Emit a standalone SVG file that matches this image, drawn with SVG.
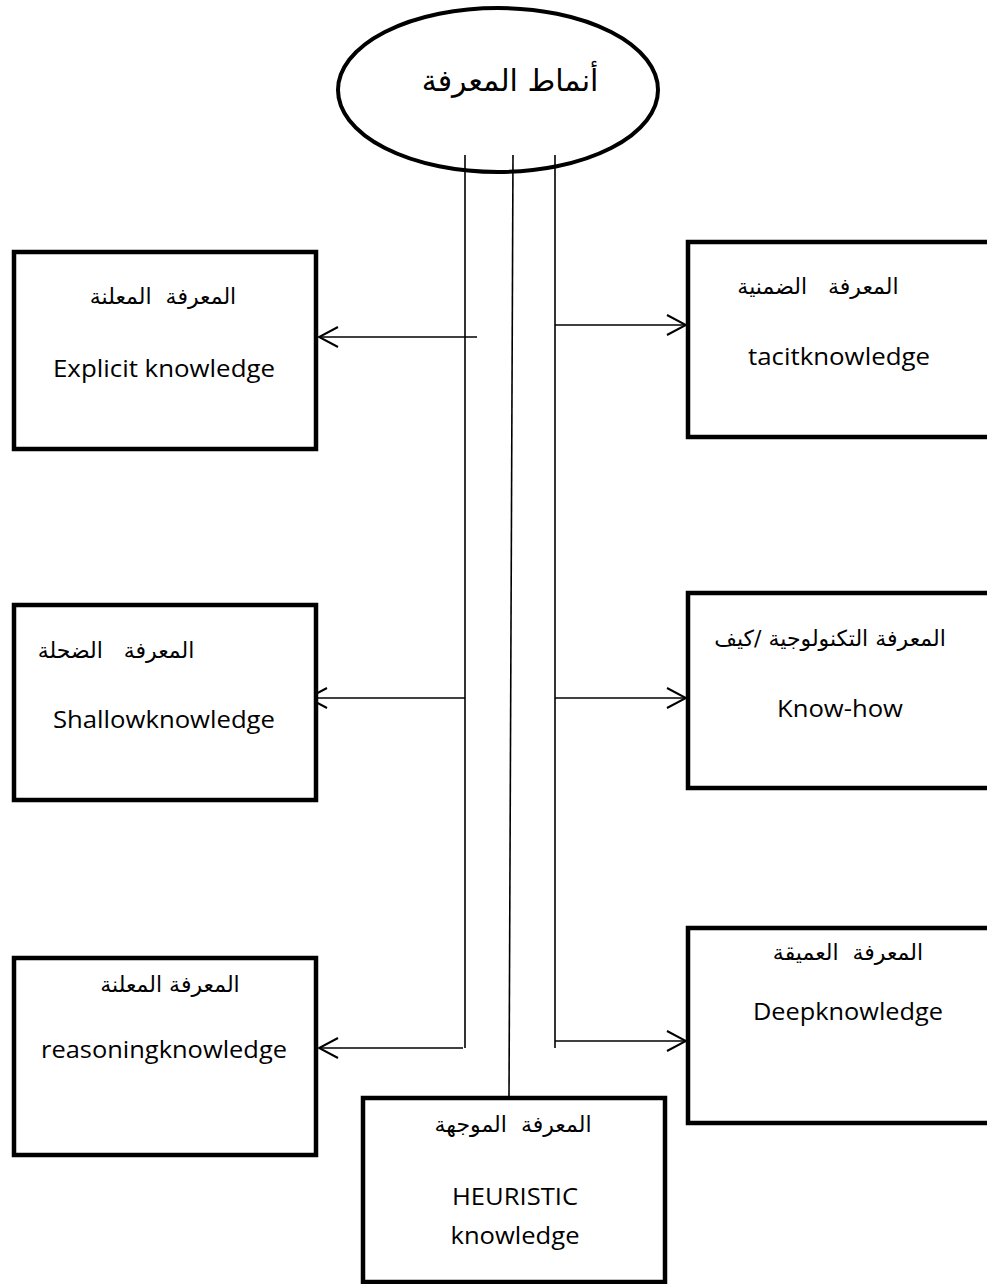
<svg xmlns="http://www.w3.org/2000/svg" width="987" height="1284" viewBox="0 0 987 1284">
<style>
.box{fill:#fff;stroke:#000;stroke-width:4.5}
.ar{font-family:"DejaVu Sans",sans-serif;font-size:22px;text-anchor:middle;direction:rtl;white-space:pre;fill:#000}
.en{font-family:"Open Sans",Lato,sans-serif;font-size:24px;text-anchor:middle;fill:#000}
.ln{stroke:#000;stroke-width:1.6;fill:none}
</style>
<defs>
<marker id="arr" markerUnits="userSpaceOnUse" markerWidth="24" markerHeight="24" viewBox="-22 -12 24 24" refX="0" refY="0" orient="auto">
<path d="M-19,-10 L0,0 L-19,10" fill="none" stroke="#000" stroke-width="2"/>
</marker>
</defs>
<g id="root">
<ellipse cx="498" cy="90" rx="160" ry="82" fill="#fff" stroke="#000" stroke-width="4"/>
<text x="510" y="91" style="font-family:'DejaVu Sans',sans-serif;font-size:30px;text-anchor:middle;direction:rtl">أنماط المعرفة</text>
</g>
<g id="connectors">
<line class="ln" x1="465" y1="155" x2="465" y2="1048"/>
<line class="ln" x1="513" y1="155" x2="509" y2="1098"/>
<line class="ln" x1="555" y1="155" x2="555" y2="1048"/>
<line class="ln" x1="477" y1="337" x2="319" y2="337" marker-end="url(#arr)"/>
<line class="ln" x1="555" y1="325" x2="686" y2="325" marker-end="url(#arr)"/>
<line class="ln" x1="465" y1="698" x2="308" y2="698" marker-end="url(#arr)"/>
<line class="ln" x1="555" y1="698" x2="686" y2="698" marker-end="url(#arr)"/>
<line class="ln" x1="463" y1="1048" x2="319" y2="1048" marker-end="url(#arr)"/>
<line class="ln" x1="555" y1="1041" x2="686" y2="1041" marker-end="url(#arr)"/>
</g>
<g id="explicit">
<rect class="box" x="14" y="252" width="302" height="197"/>
<text class="ar" x="163" y="304">المعرفة  المعلنة</text>
<text class="en" x="164" y="377" textLength="222" lengthAdjust="spacingAndGlyphs">Explicit knowledge</text>
</g>
<g id="tacit">
<rect class="box" x="688" y="242" width="310" height="195"/>
<text class="ar" x="818" y="294">المعرفة   الضمنية</text>
<text class="en" x="839" y="365" textLength="182" lengthAdjust="spacingAndGlyphs">tacitknowledge</text>
</g>
<g id="shallow">
<rect class="box" x="14" y="605" width="302" height="195"/>
<text class="ar" x="116" y="658">المعرفة   الضحلة</text>
<text class="en" x="164" y="728" textLength="222" lengthAdjust="spacingAndGlyphs">Shallowknowledge</text>
</g>
<g id="knowhow">
<rect class="box" x="688" y="593" width="310" height="195"/>
<text class="ar" x="830" y="646">المعرفة التكنولوجية /كيف</text>
<text class="en" x="840" y="717" textLength="126" lengthAdjust="spacingAndGlyphs">Know-how</text>
</g>
<g id="reasoning">
<rect class="box" x="14" y="958" width="302" height="197"/>
<text class="ar" x="170" y="992">المعرفة المعلنة</text>
<text class="en" x="164" y="1058" textLength="246" lengthAdjust="spacingAndGlyphs">reasoningknowledge</text>
</g>
<g id="deep">
<rect class="box" x="688" y="928" width="310" height="195"/>
<text class="ar" x="848" y="960">المعرفة  العميقة</text>
<text class="en" x="848" y="1020" textLength="190" lengthAdjust="spacingAndGlyphs">Deepknowledge</text>
</g>
<g id="heuristic">
<rect class="box" x="363" y="1098" width="302" height="184"/>
<text class="ar" x="513" y="1132">المعرفة  الموجهة</text>
<text class="en" x="515" y="1205" textLength="126" lengthAdjust="spacingAndGlyphs">HEURISTIC</text>
<text class="en" x="515" y="1244" textLength="129" lengthAdjust="spacingAndGlyphs">knowledge</text>
</g>
</svg>
